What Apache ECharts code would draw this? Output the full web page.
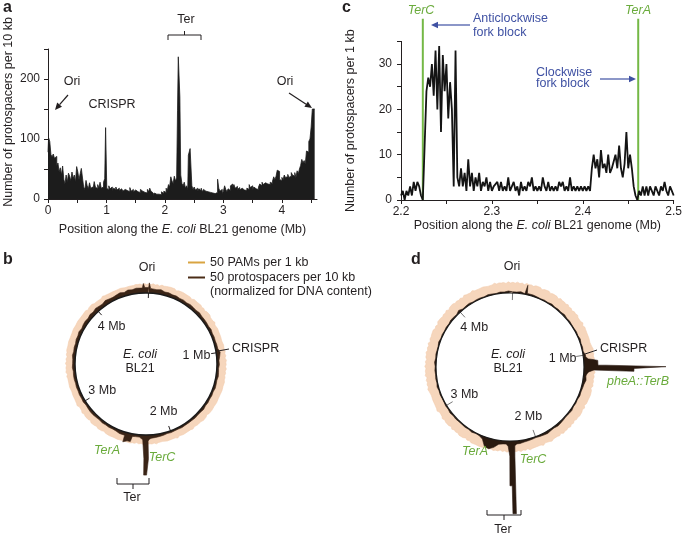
<!DOCTYPE html>
<html>
<head>
    <meta charset="utf-8">
    <script src="https://cdn.jsdelivr.net/npm/echarts@6/dist/echarts.min.js"></script>
    <style>
        body, html { margin: 0; height: 100%; background: #fff; }
        #main { width: 685px; height: 537px; }
    </style>
</head>
<body>
<div id="main"></div>
<script>
    var FONT = '"Liberation Sans", Arial, sans-serif';
    var GENOME = 4.56;           // Mb, BL21 chromosome
    var GREEN = '#6aab3c', BLUE = '#3f51a3', INK = '#231f20';

    // panel a : protospacers per 10 kb, [bin start (Mb), count]
    var protospacers10kb = [
        [0.00,78],[0.01,102],[0.03,96],[0.05,74],[0.07,70],[0.09,75],[0.11,68],[0.13,71],[0.15,55],[0.17,60],
        [0.19,45],[0.21,52],[0.23,40],[0.25,55],[0.27,33],[0.29,25],[0.31,40],[0.33,28],[0.35,43],[0.37,38],
        [0.39,30],[0.41,45],[0.43,34],[0.45,40],[0.47,28],[0.49,54],[0.51,45],[0.53,32],[0.55,42],[0.57,51],
        [0.59,35],[0.61,20],[0.63,16],[0.65,31],[0.67,22],[0.69,17],[0.71,27],[0.73,18],[0.75,20],[0.77,16],
        [0.79,29],[0.81,20],[0.83,17],[0.85,24],[0.87,18],[0.89,28],[0.91,18],[0.93,20],[0.95,28],[0.97,34],
        [0.985,119],[1.005,18],[1.02,15],[1.04,22],[1.06,17],[1.08,20],[1.10,14],[1.12,18],[1.14,16],[1.16,20],
        [1.18,15],[1.20,18],[1.22,14],[1.24,17],[1.26,20],[1.28,13],[1.30,16],[1.32,19],[1.34,14],[1.36,16],
        [1.38,12],[1.40,19],[1.42,13],[1.44,16],[1.46,12],[1.48,15],[1.50,18],[1.52,12],[1.54,14],[1.56,11],
        [1.58,16],[1.60,13],[1.62,15],[1.64,11],[1.66,13],[1.68,10],[1.70,16],[1.72,12],[1.74,18],[1.76,13],
        [1.78,10],[1.80,6],[1.82,10],[1.84,8],[1.86,11],[1.88,8],[1.90,10],[1.92,7],[1.94,12],[1.96,9],
        [1.98,13],[2.00,11],[2.02,18],[2.04,14],[2.06,24],[2.08,20],[2.10,37],[2.12,30],[2.14,26],[2.16,38],
        [2.18,30],[2.20,35],[2.215,148],[2.228,237],[2.255,170],[2.27,40],[2.29,26],[2.31,22],[2.33,28],[2.35,18],
        [2.37,22],[2.39,16],[2.40,73],[2.43,84],[2.46,22],[2.48,16],[2.50,20],[2.52,15],[2.54,18],[2.56,13],
        [2.58,17],[2.60,14],[2.62,18],[2.64,12],[2.66,16],[2.68,13],[2.70,15],[2.72,12],[2.74,14],[2.76,11],
        [2.78,13],[2.80,10],[2.82,12],[2.84,9],[2.86,12],[2.88,11],[2.90,33],[2.92,18],[2.94,13],[2.96,16],
        [2.98,9],[3.00,13],[3.02,22],[3.04,16],[3.06,12],[3.08,17],[3.10,14],[3.12,22],[3.14,25],[3.16,20],
        [3.18,24],[3.20,18],[3.22,21],[3.24,16],[3.26,19],[3.28,15],[3.30,18],[3.32,20],[3.34,15],[3.36,17],
        [3.38,14],[3.40,18],[3.42,16],[3.44,24],[3.46,19],[3.48,22],[3.50,16],[3.52,20],[3.54,17],[3.56,19],
        [3.58,16],[3.60,20],[3.62,25],[3.64,22],[3.66,28],[3.68,24],[3.70,27],[3.72,29],[3.74,25],[3.76,27],
        [3.78,24],[3.80,28],[3.82,26],[3.84,30],[3.86,37],[3.88,32],[3.90,38],[3.92,48],[3.94,46],[3.96,33],
        [3.98,30],[4.00,36],[4.02,32],[4.04,40],[4.06,36],[4.08,37],[4.10,41],[4.12,36],[4.14,38],[4.16,44],
        [4.18,40],[4.20,38],[4.22,44],[4.24,36],[4.26,47],[4.28,42],[4.30,50],[4.32,56],[4.34,66],[4.36,60],
        [4.38,64],[4.40,58],[4.42,80],[4.44,78],[4.46,96],[4.48,100],[4.50,120],[4.52,150],[4.56,150]
    ];

    // panel c : protospacers per 1 kb, every 2 kb from 2.200 Mb
    var cStart = 2.2, cStep = 0.002;
    var protospacers1kb = [
        1,2,0,2,1,3,1,4,2,4,
        3,1,0,12,24,27,25,30,23,33,
        20,34,15,32,24,30,18,26,20,3,
        33,5,3,7,3,6,2,9,3,6,
        2,5,3,6,2,4,3,5,2,4,
        2,3,3,4,2,4,2,3,2,5,
        2,3,4,2,3,1,4,2,3,2,
        4,3,5,2,3,2,3,2,5,3,
        2,4,2,3,2,3,2,4,3,4,
        2,3,2,5,2,3,2,3,2,3,
        2,3,2,3,2,7,10,7,9,5,
        11,7,8,6,10,6,7,7,10,7,
        12,7,5,8,15,7,10,7,3,1,
        0,2,1,3,1,3,1,3,2,1,
        3,2,1,3,2,4,2,1,3,2,
        1
    ];
    var terSites = [['TerC', 2.224], ['TerA', 2.461]];

    // panels b, d : PAM density (per 1 kb), one value every 0.02 Mb round the genome
    var pamPerKb = [
        27,25,28,25,27,24,28,26,27,25,28,25,28,24,27,26,28,25,27,
        25,27,24,28,26,27,25,28,25,27,24,27,26,28,25,27,25,28,24,
        27,26,27,25,28,25,27,24,27,26,28,25,27,25,27,24,28,26,27,
        25,28,25,27,25,27,26,28,24,27,25,28,25,27,26,27,24,28,25,
        27,25,28,26,27,24,27,25,28,25,27,26,28,24,27,25,27,25,28,
        26,27,24,28,25,27,25,27,26,28,24,27,25,28,25,27,26,27,25,
        28,25,27,24,27,26,28,25,27,25,27,24,28,26,27,25,28,25,27,
        24,27,26,28,25,27,25,28,24,27,26,27,25,28,25,27,24,28,26,
        27,25,27,25,28,24,27,26,28,25,27,25,27,24,28,26,27,25,28,
        25,27,24,27,26,28,25,27,25,28,24,27,26,27,25,28,25,27,24,
        28,26,27,25,27,25,28,24,27,26,28,25,27,25,27,24,28,26,27,
        25,28,25,27,25,27,26,28,24,27,25,28,25,27,26,27,24,28,25
    ];

    // panel b : normalized protospacers per 10 kb, one value every 0.04 Mb
    var ringB = [
        16,13,12,14,10,11,9,10,
        8,9,7,9,8,7,9,7,
        7,7,6,8,6,7,6,7,7,
        12,9,
        6,7,5,6,7,5,6,7,5,6,5,6,5,7,
        5,5,6,5,5,5,6,5,5,6,5,7,
        8,9,10,
        14,10,7,7,
        9,26,30,10,
        7,6,7,6,7,5,6,7,7,6,5,7,6,7,6,7,6,
        7,7,6,8,7,7,9,7,8,7,9,8,10,7,9,
        10,8,11,9,12,10,9,13,11,10,
        12,14,11,15,13,16,15,20
    ];
    // finer detail that replaces the coarse ring where it is given, [Mb, value]
    var ringBDetail = [
        [[0.0,16],[0.004,16],[0.005,30],[0.018,30],[0.019,14],[0.04,13]],
        [[2.22,12],[2.235,18],[2.236,70],[2.25,70],[2.251,118],[2.27,118],[2.271,70],[2.285,70],[2.286,14],[2.30,10]],
        [[2.39,8],[2.40,24],[2.43,24],[2.431,30],[2.465,30],[2.466,10],[2.48,10]],
        [[4.50,15],[4.51,15],[4.511,28],[4.522,28],[4.523,16],[4.54,20]]
    ];

    // panel d : pheA::TerB strain
    var ringD = [
        3,3,5,2,3,4,3,2,
        3,2,4,2,3,2,4,2,
        3,2,2,3,2,4,2,3,2,
        6,8,
        8,10,7,6,8,5,4,3,4,2,3,2,4,3,
        2,3,4,5,3,4,6,5,4,3,4,5,
        6,8,10,
        30,12,8,10,
        20,26,24,8,
        3,2,4,2,3,2,2,3,2,4,2,3,2,2,3,2,4,
        2,3,2,3,2,4,2,3,2,2,4,2,3,2,3,
        2,4,3,2,6,2,3,4,2,3,
        3,2,4,3,2,4,3,5
    ];
    var ringDDetail = [
        [[0.12,3],[0.13,4],[0.131,24],[0.142,24],[0.143,4],[0.16,4]],
        [[1.02,6],[1.04,12],[1.05,24],[1.06,35],[1.10,35],[1.101,55],[1.112,55],[1.113,205],[1.122,205],[1.123,125],[1.14,125],[1.141,25],[1.16,12],[1.18,8]],
        [[2.19,8],[2.21,12],[2.215,40],[2.222,40],[2.223,182],[2.24,182],[2.241,112],[2.255,112],[2.256,38],[2.27,38],[2.271,14],[2.29,8]]
    ];
    var mbMarks = [1, 2, 3, 4];

    var PAM_NAME = '50 PAMs per 1 kb';
    var SPACER_NAME = '50 protospacers per 10 kb';

    function ring(base, detail) {
        var step = GENOME / base.length;
        var pts = base.map(function (v, i) { return [i * step, v]; });
        pts.push([GENOME, base[0]]);
        (detail || []).forEach(function (d) {
            var lo = d[0][0], hi = d[d.length - 1][0];
            pts = pts.filter(function (p) { return p[0] < lo || p[0] > hi; }).concat(d);
        });
        pts.sort(function (p, q) { return p[0] - q[0]; });
        return pts.map(function (p) { return [p[1], p[0]]; });   // polar: [radius, angle]
    }

    // ---- annotations
    var G = [];
    function addText(x, y, s, o) {
        G.push({type: 'text', x: x, y: y, z: 100, silent: true,
            style: Object.assign({text: s, fill: INK, font: '12.5px ' + FONT,
                align: 'center', verticalAlign: 'middle'}, o || {})});
    }
    function addLine(pts, color, w) {
        G.push({type: 'polyline', z: 100, silent: true, shape: {points: pts},
            style: {stroke: color || INK, fill: null, lineWidth: w || 1}});
    }
    function arrow(x1, y1, x2, y2, color) {
        var a = Math.atan2(y2 - y1, x2 - x1), h = 7, w = 3.2;
        var bx = x2 - h * Math.cos(a), by = y2 - h * Math.sin(a);
        addLine([[x1, y1], [bx, by]], color, 1.2);
        G.push({type: 'polygon', z: 100, silent: true,
            shape: {points: [[x2, y2], [bx - w * Math.sin(a), by + w * Math.cos(a)], [bx + w * Math.sin(a), by - w * Math.cos(a)]]},
            style: {fill: color || INK}});
    }
    function bracket(x1, x2, y, endLen, tickLen) {
        addLine([[x1, y + endLen], [x1, y], [x2, y], [x2, y + endLen]]);
        addLine([[(x1 + x2) / 2, y], [(x1 + x2) / 2, y + tickLen]]);
    }
    var bold = 'bold 16px ' + FONT, ital = 'italic 12.5px ' + FONT;

    // a
    addText(3, 7.5, 'a', {font: bold, align: 'left'});
    addText(186, 20, 'Ter');
    bracket(168, 201, 35, 5, -4);
    addText(72, 82, 'Ori'); arrow(68, 95, 55, 110);
    addText(112, 105, 'CRISPR');
    addText(285, 82, 'Ori'); arrow(289, 93, 312, 108);
    // c
    addText(342, 7.5, 'c', {font: bold, align: 'left'});
    addText(421, 11, 'TerC', {font: ital, fill: GREEN});
    addText(638, 11, 'TerA', {font: ital, fill: GREEN});
    addText(473, 19, 'Anticlockwise', {align: 'left', fill: BLUE});
    addText(473, 33, 'fork block', {align: 'left', fill: BLUE});
    arrow(470, 25, 431, 25, BLUE);
    addText(536, 73, 'Clockwise', {align: 'left', fill: BLUE});
    addText(536, 84, 'fork block', {align: 'left', fill: BLUE});
    arrow(600, 79, 636, 79, BLUE);
    // b
    addText(3, 259.5, 'b', {font: bold, align: 'left'});
    addText(147, 268, 'Ori');
    addText(232, 349, 'CRISPR', {align: 'left'}); addLine([[218, 351], [229, 349]]);
    addText(107, 451, 'TerA', {font: ital, fill: GREEN});
    addText(162, 458, 'TerC', {font: ital, fill: GREEN});
    bracket(117, 149, 484, -6, 5);
    addText(132, 498, 'Ter');
    addText(140, 355, 'E. coli', {font: ital});
    addText(140, 369, 'BL21');
    addText(210, 292, '(normalized for DNA content)', {align: 'left'});
    // d
    addText(411, 259.5, 'd', {font: bold, align: 'left'});
    addText(512, 267, 'Ori');
    addText(600, 349, 'CRISPR', {align: 'left'}); addLine([[585, 354], [597, 350]]);
    addText(607, 382, 'pheA::TerB', {font: ital, fill: GREEN, align: 'left'});
    addText(475, 452, 'TerA', {font: ital, fill: GREEN});
    addText(533, 460, 'TerC', {font: ital, fill: GREEN});
    bracket(487, 521, 515, -5, 5);
    addText(503, 530, 'Ter');
    addText(508, 355, 'E. coli', {font: ital});
    addText(508, 369, 'BL21');

    var axisText = {color: INK, fontSize: 12, fontFamily: FONT};
    var nameText = {color: INK, fontSize: 12.5, fontFamily: FONT,
        rich: {i: {fontStyle: 'italic', fontSize: 12.5, fontFamily: FONT, color: INK}}};
    var axLine = {show: true, lineStyle: {color: INK, width: 1}};

    function dataAngle(i) {
        return {polarIndex: i, type: 'value', min: 0, max: GENOME, startAngle: 88, clockwise: true, show: false};
    }
    function outlineAngle(i, tickColor, tickLen, w) {
        return {polarIndex: i, type: 'value', min: 0, max: GENOME, interval: 1, startAngle: 88, clockwise: true, z: 3,
            axisLine: {show: true, lineStyle: {color: '#1a1a1a', width: w}},
            axisTick: {show: true, inside: true, length: tickLen, lineStyle: {color: tickColor, width: 1}},
            axisLabel: {show: false}, splitLine: {show: false}};
    }
    function ringSeries(name, polar, data, color, fill, z) {
        return {name: name, type: 'line', coordinateSystem: 'polar', polarIndex: polar, data: data,
            symbol: 'none', silent: true, z: z, animation: false,
            lineStyle: {color: color, width: 0.6}, areaStyle: {color: fill, opacity: 1}};
    }
    function mbLabels(polar) {
        return {type: 'scatter', coordinateSystem: 'polar', polarIndex: polar, symbolSize: 0, silent: true, z: 5,
            itemStyle: {color: INK},
            data: mbMarks.map(function (m) { return [0.72, m]; }),
            label: {show: true, position: 'inside', color: INK, opacity: 1, textBorderWidth: 0,
                fontSize: 12.5, fontFamily: FONT,
                formatter: function (p) { return p.value[1] + ' Mb'; }}};
    }

    var pamRing = ring(pamPerKb);
    var option = {
        animation: false,
        textStyle: {fontFamily: FONT},
        grid: [
            {left: 48, top: 49, width: 269, height: 150},
            {left: 401, top: 41.4, width: 276, height: 158.6}
        ],
        xAxis: [
            {gridIndex: 0, type: 'value', min: 0, max: 4.6,
                name: 'Position along the {i|E. coli} BL21 genome (Mb)', nameLocation: 'middle', nameGap: 24,
                nameTextStyle: nameText, axisLine: axLine, splitLine: {show: false},
                axisTick: {length: 4, lineStyle: {color: INK}, customValues: [0, 0.5, 1, 1.5, 2, 2.5, 3, 3.5, 4, 4.5]},
                axisLabel: Object.assign({margin: 6, customValues: [0, 1, 2, 3, 4]}, axisText)},
            {gridIndex: 1, type: 'value', min: 2.2, max: 2.5,
                name: 'Position along the {i|E. coli} BL21 genome (Mb)', nameLocation: 'middle', nameGap: 15,
                nameTextStyle: nameText, axisLine: axLine, splitLine: {show: false},
                axisTick: {length: 4, lineStyle: {color: INK}, customValues: [2.2, 2.25, 2.3, 2.35, 2.4, 2.45, 2.5]},
                axisLabel: Object.assign({margin: 6, customValues: [2.2, 2.3, 2.4, 2.5],
                    formatter: function (v) { return v.toFixed(1); }}, axisText)}
        ],
        yAxis: [
            {gridIndex: 0, type: 'value', min: 0, max: 250, interval: 50,
                name: 'Number of protospacers per 10 kb', nameLocation: 'middle', nameGap: 33,
                nameTextStyle: Object.assign({padding: [0, 0, 0, 24]}, nameText),
                axisLine: axLine, splitLine: {show: false},
                axisTick: {length: 4, lineStyle: {color: INK}},
                axisLabel: Object.assign({margin: 8, formatter: function (v) { return v % 100 === 0 ? v : ''; }}, axisText)},
            {gridIndex: 1, type: 'value', min: 0, max: 35, interval: 5,
                name: 'Number of protospacers per 1 kb', nameLocation: 'middle', nameGap: 44,
                nameTextStyle: nameText, axisLine: axLine, splitLine: {show: false},
                axisTick: {length: 4, lineStyle: {color: INK}},
                axisLabel: Object.assign({margin: 9, formatter: function (v) { return v % 10 === 0 ? v : ''; }}, axisText)}
        ],
        polar: [
            {center: [146, 364], radius: [71, 156]},
            {center: [146, 364], radius: 71},
            {center: [510, 367], radius: [74, 174]},
            {center: [510, 367], radius: 74}
        ],
        angleAxis: [dataAngle(0), outlineAngle(1, INK, 5, 1.5), dataAngle(2), outlineAngle(3, '#777', 7, 1.2)],
        radiusAxis: [
            {polarIndex: 0, min: 0, max: 250, show: false},
            {polarIndex: 1, min: 0, max: 1, show: false},
            {polarIndex: 2, min: 0, max: 250, show: false},
            {polarIndex: 3, min: 0, max: 1, show: false}
        ],
        legend: {
            left: 188, top: 256, orient: 'vertical', padding: 0, itemGap: 2,
            itemWidth: 17, itemHeight: 2, icon: 'rect', selectedMode: false,
            textStyle: {color: INK, fontSize: 12.5, fontFamily: FONT},
            data: [
                {name: PAM_NAME, itemStyle: {color: '#d9a441'}, lineStyle: {color: '#d9a441'}},
                {name: SPACER_NAME, itemStyle: {color: '#4a2c17'}, lineStyle: {color: '#4a2c17'}}
            ]
        },
        graphic: {elements: G},
        series: [
            {type: 'line', xAxisIndex: 0, yAxisIndex: 0, data: protospacers10kb, step: 'end', symbol: 'none',
                silent: true, lineStyle: {color: '#1c1c1c', width: 0.8}, areaStyle: {color: '#1c1c1c', opacity: 1}},
            {type: 'line', xAxisIndex: 1, yAxisIndex: 1, symbol: 'none', silent: true,
                data: protospacers1kb.map(function (v, i) { return [cStart + i * cStep, v]; }),
                lineStyle: {color: '#141414', width: 1.8}, z: 3},
            {type: 'line', xAxisIndex: 1, yAxisIndex: 1, symbol: 'none', silent: true, clip: false,
                data: [[terSites[0][1], 0], [terSites[0][1], 40]], lineStyle: {color: '#74b846', width: 2}, z: 2},
            {type: 'line', xAxisIndex: 1, yAxisIndex: 1, symbol: 'none', silent: true, clip: false,
                data: [[terSites[1][1], 0], [terSites[1][1], 40]], lineStyle: {color: '#74b846', width: 2}, z: 2},
            ringSeries(PAM_NAME, 0, pamRing, '#f3cdae', '#f6d6bc', 1),
            ringSeries(SPACER_NAME, 0, ring(ringB, ringBDetail), '#3a2416', '#3a2416', 2),
            ringSeries(PAM_NAME, 2, pamRing, '#f3cdae', '#f6d6bc', 1),
            ringSeries(SPACER_NAME, 2, ring(ringD, ringDDetail), '#2a1a10', '#2a1a10', 2),
            mbLabels(1),
            mbLabels(3)
        ]
    };

    var myChart = echarts.init(document.getElementById('main'));
    myChart.setOption(option);
</script>
</body>
</html>
